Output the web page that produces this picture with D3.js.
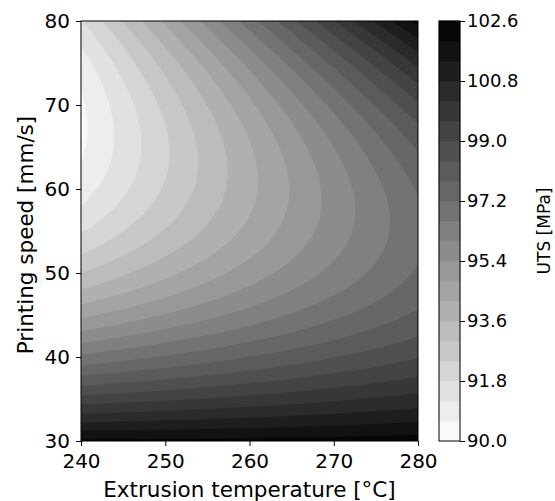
<!DOCTYPE html>
<html>
<head>
<meta charset="utf-8">
<script src="https://cdn.jsdelivr.net/npm/d3@7"></script>
<style>
  body { margin: 0; background: #fff; }
  svg text { font-family: "DejaVu Sans", sans-serif; fill: #000; }
</style>
</head>
<body>
<svg id="chart"></svg>
<script>
// fitted response surface (temperature coded as T - 240)
var tempRef = 240;
var coefNames = ['b0', 'bT', 'bV', 'bTT', 'bVV', 'bTV'];
var coefValues = [128.263, -0.1544, -1.1205, 0.000108, 0.0083, 0.005146];

var tempTicks = [240, 250, 260, 270, 280];
var speedTicks = [30, 40, 50, 60, 70, 80];
var levels = [90.0, 90.6, 91.2, 91.8, 92.4, 93.0, 93.6, 94.2, 94.8, 95.4, 96.0,
  96.6, 97.2, 97.8, 98.4, 99.0, 99.6, 100.2, 100.8, 101.4, 102.0, 102.6];
var cbarTicks = [90.0, 91.8, 93.6, 95.4, 97.2, 99.0, 100.8, 102.6];

document.addEventListener('DOMContentLoaded', () => {
  var size = { width: 555, height: 501 };
  var margin = { top: 21, left: 81 };
  var width = 337;
  var height = 420;

  var coef = {};
  coefNames.forEach((n, i) => coef[n] = coefValues[i]);
  var uts = (T, V) => {
    var t = T - tempRef;
    return coef.b0 + coef.bT * t + coef.bV * V + coef.bTT * t * t +
      coef.bVV * V * V + coef.bTV * t * V;
  };

  var x = d3.scaleLinear()
    .domain(d3.extent(tempTicks))
    .range([0, width]);

  var y = d3.scaleLinear()
    .domain(d3.extent(speedTicks))
    .range([height, 0]);

  // linear white -> black, one shade per band
  var color = (i) => d3.interpolateRgb('#ffffff', '#000000')((i + 0.5) / (levels.length - 1));

  var svg = d3.select('#chart')
    .attr('width', size.width)
    .attr('height', size.height);

  var chart = svg.append('g')
    .attr('transform', `translate(${ margin.left }, ${ margin.top })`);

  chart.append('clipPath')
    .attr('id', 'clip')
    .append('rect')
    .attr('width', width)
    .attr('height', height);

  // sample the surface on a pixel grid
  var nx = width, ny = height;
  var grid = new Array(nx * ny);
  for (var j = 0; j < ny; j++) {
    for (var i = 0; i < nx; i++) {
      grid[j * nx + i] = uts(x.invert(i + 0.5), y.invert(j + 0.5));
    }
  }

  var contours = d3.contours()
    .size([nx, ny])
    .thresholds(levels.slice(0, -1))(grid);

  chart.append('g')
    .attr('clip-path', 'url(#clip)')
    .selectAll('path')
    .data(contours)
    .enter().append('path')
    .attr('d', d3.geoPath())
    .attr('fill', (d, i) => color(i))
    .attr('stroke', (d, i) => color(i))
    .attr('stroke-width', 0.5);

  var xAxis = d3.axisBottom(x).tickValues(tempTicks).tickSizeOuter(0).tickSize(5).tickPadding(8);
  var yAxis = d3.axisLeft(y).tickValues(speedTicks).tickSizeOuter(0).tickSize(5).tickPadding(6);

  var gx = chart.append('g')
    .attr('transform', `translate(0, ${ height })`)
    .call(xAxis);
  var gy = chart.append('g')
    .call(yAxis);
  [gx, gy].forEach(g => {
    g.select('.domain').remove();
    g.selectAll('text').attr('font-size', '20px').attr('fill', '#000')
      .style('font-family', '"DejaVu Sans", sans-serif');
    g.selectAll('line').attr('stroke', '#000');
  });

  chart.append('rect')
    .attr('width', width)
    .attr('height', height)
    .attr('fill', 'none')
    .attr('stroke', '#000')
    .attr('stroke-width', 1);

  chart.append('text')
    .attr('x', width / 2)
    .attr('y', height + 56)
    .attr('text-anchor', 'middle')
    .attr('font-size', '21.5px')
    .text('Extrusion temperature [°C]');

  chart.append('text')
    .attr('transform', `translate(-48, ${ height / 2 + 4 }) rotate(-90)`)
    .attr('text-anchor', 'middle')
    .attr('font-size', '21.5px')
    .text('Printing speed [mm/s]');

  // colorbar
  var cbW = 21;
  var cb = svg.append('g')
    .attr('transform', `translate(439, ${ margin.top })`);

  var cy = d3.scaleLinear()
    .domain([levels[0], levels[levels.length - 1]])
    .range([height, 0]);

  cb.selectAll('.band')
    .data(levels.slice(0, -1))
    .enter().append('rect')
    .attr('class', 'band')
    .attr('x', 0)
    .attr('width', cbW)
    .attr('y', (d, i) => cy(levels[i + 1]))
    .attr('height', (d, i) => cy(levels[i]) - cy(levels[i + 1]))
    .attr('fill', (d, i) => color(i))
    .attr('stroke', (d, i) => color(i))
    .attr('stroke-width', 0.5);

  cb.append('rect')
    .attr('width', cbW)
    .attr('height', height)
    .attr('fill', 'none')
    .attr('stroke', '#000')
    .attr('stroke-width', 1);

  var cAxis = d3.axisRight(cy).tickValues(cbarTicks).tickFormat(d3.format('.1f'))
    .tickSizeOuter(0).tickSize(5).tickPadding(2);
  var gc = cb.append('g')
    .attr('transform', `translate(${ cbW }, 0)`)
    .call(cAxis);
  gc.select('.domain').remove();
  gc.selectAll('text').attr('font-size', '18px').attr('fill', '#000')
    .style('font-family', '"DejaVu Sans", sans-serif');
  gc.selectAll('line').attr('stroke', '#000');

  cb.append('text')
    .attr('transform', `translate(111, ${ height / 2 }) rotate(-90)`)
    .attr('text-anchor', 'middle')
    .attr('font-size', '17px')
    .text('UTS [MPa]');
});
</script>
</body>
</html>
